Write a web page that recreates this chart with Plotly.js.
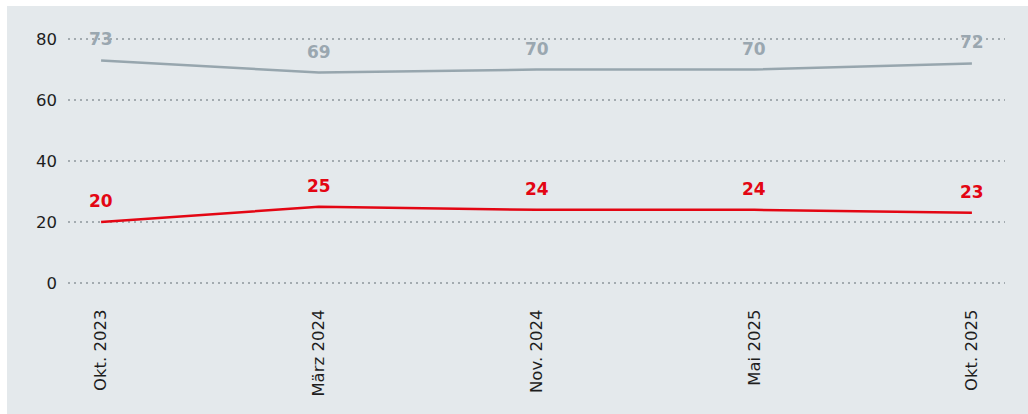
<!DOCTYPE html>
<html>
<head>
<meta charset="utf-8">
<script src="https://cdn.plot.ly/plotly-3.0.1.min.js"></script>
<style>
html,body{margin:0;padding:0;background:#ffffff;}
#wrap{position:absolute;left:7px;top:6px;width:1021px;height:408px;background:#e4e9ec;}
#chart{width:1021px;height:408px;}
</style>
</head>
<body>
<div id="wrap"><div id="chart"></div></div>
<script>
const categories = ["Okt. 2023", "März 2024", "Nov. 2024", "Mai 2025", "Okt. 2025"];
const greySeries = [73, 69, 70, 70, 72];
const redSeries = [20, 25, 24, 24, 23];
const yTicks = [0, 20, 40, 60, 80];

const GREY = '#97a6ae', RED = '#e30613';
const labelFont = '"DejaVu Sans", sans-serif';

const traces = [
  {x: categories, y: greySeries, type: 'scatter', mode: 'lines',
   line: {color: GREY, width: 2.5}, hoverinfo: 'none'},
  {x: categories, y: redSeries, type: 'scatter', mode: 'lines',
   line: {color: RED, width: 2.5}, hoverinfo: 'none'}
];

const annotations = [];
categories.forEach((c, i) => {
  annotations.push({x: c, y: greySeries[i], text: String(greySeries[i]), showarrow: false,
    yshift: 21, xref: 'x', yref: 'y',
    font: {family: labelFont, size: 17, color: '#9aa7b0', weight: 'bold'}});
  annotations.push({x: c, y: redSeries[i], text: String(redSeries[i]), showarrow: false,
    yshift: 21, xref: 'x', yref: 'y',
    font: {family: labelFont, size: 17, color: RED, weight: 'bold'}});
});

const layout = {
  width: 1021, height: 408,
  paper_bgcolor: '#e4e9ec', plot_bgcolor: '#e4e9ec',
  margin: {l: 61, r: 23, t: 30, b: 128},
  showlegend: false,
  font: {family: labelFont, color: '#1e1e1e'},
  annotations: annotations,
  xaxis: {
    type: 'category', range: [-0.152, 4.152],
    showgrid: false, zeroline: false, showline: false,
    tickangle: -90, ticks: 'outside', ticklen: 16, tickcolor: 'rgba(0,0,0,0)',
    tickfont: {size: 16.5, color: '#1e1e1e'}
  },
  yaxis: {
    range: [-1, 81], tickvals: yTicks, ticktext: yTicks.map(String),
    showgrid: true, gridcolor: '#a3abb0', griddash: '1.5px,4.5px', gridwidth: 1.5,
    zeroline: false, showline: false, ticks: '', ticklabelstandoff: 10,
    tickfont: {size: 16.5, color: '#1e1e1e'}
  }
};

Plotly.newPlot('chart', traces, layout, {displayModeBar: false, staticPlot: true});
</script>
</body>
</html>
